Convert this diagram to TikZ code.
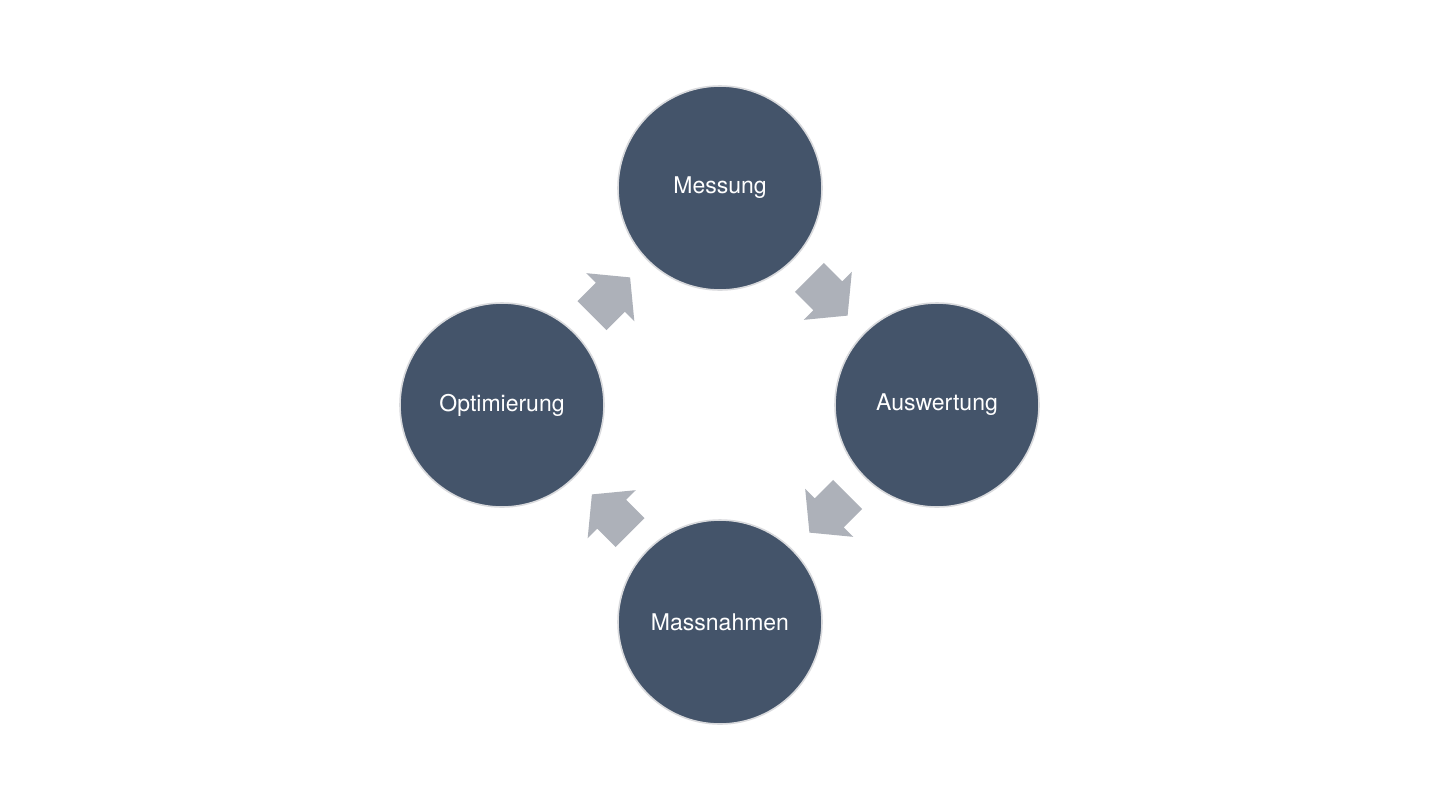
\documentclass[tikz,border=0pt]{standalone}
\usepackage{fontspec}
\setmainfont{TeX Gyre Heros}
\usetikzlibrary{calc}
\definecolor{circfill}{HTML}{44546A}
\definecolor{circline}{HTML}{D9DADD}
\definecolor{arrfill}{HTML}{ADB1B9}
\begin{document}
\begin{tikzpicture}[x=0.5pt,y=-0.5pt,
  stage/.style={circle,fill=circfill,draw=circline,line width=0.8pt,minimum size=102pt,inner sep=0pt,text=white,font=\fontsize{11.5pt}{14pt}\selectfont},
  blockarrow/.style={fill=arrfill}]
\useasboundingbox (0,0) rectangle (1440,810);
\fill[white] (0,0) rectangle (1440,810);
\node[stage] (m) at (720,188) {Messung};
\node[stage] (a) at (937,405) {Auswertung};
\node[stage] (n) at (720,622) {Massnahmen};
\node[stage] (o) at (502,405) {Optimierung};
\foreach \p/\q/\r in {m/a/-45, a/n/-135, n/o/135, o/m/45}{
  \begin{scope}[shift={($(\p)!0.5!(\q)$)},rotate=\r]
    \fill[blockarrow] (-27,-20.5) -- (-1,-20.5) -- (-1,-34) -- (27,0) -- (-1,34) -- (-1,20.5) -- (-27,20.5) -- cycle;
  \end{scope}
}
\end{tikzpicture}
\end{document}
